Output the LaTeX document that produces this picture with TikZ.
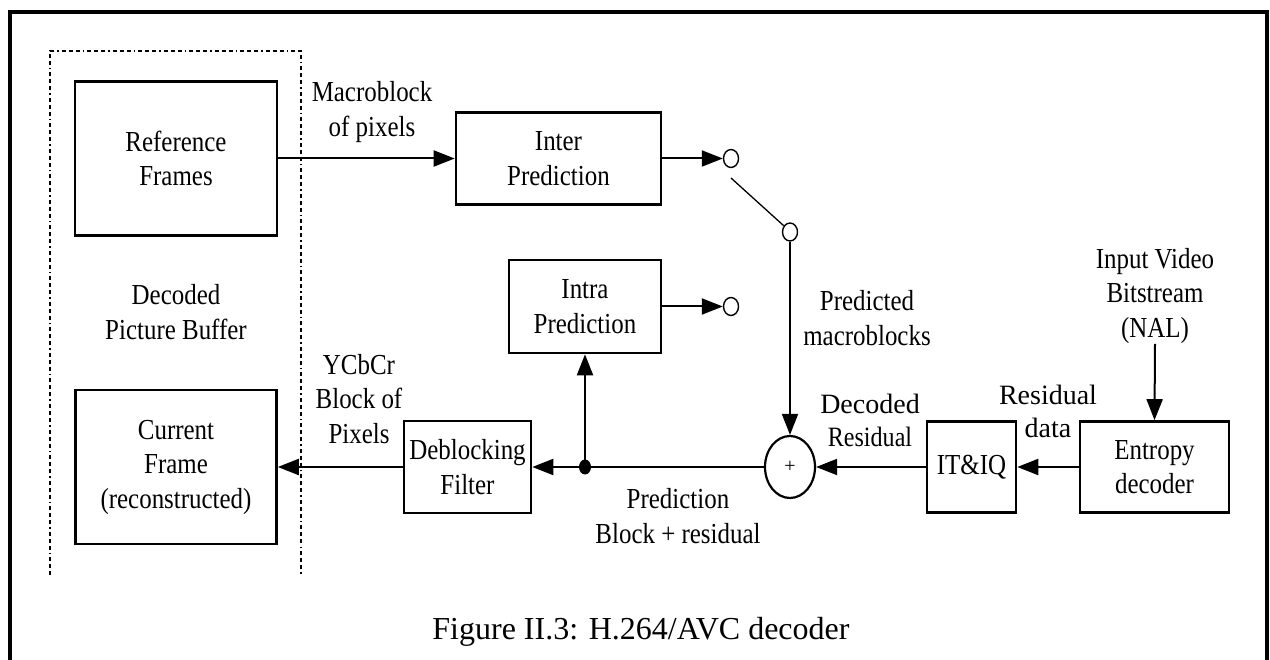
\documentclass[tikz,border=0pt]{standalone}
\usepackage{fontspec}
\setmainfont{Liberation Serif}
\newfontfamily\narrowserif[FakeStretch=0.86]{Liberation Serif}
\usetikzlibrary{arrows.meta,shapes.geometric}

\begin{document}
\begin{tikzpicture}[x=1pt,y=-1pt,
  blocktext/.style={font=\narrowserif\fontsize{29}{34.5}\selectfont, align=center},
  blockbox/.style={blocktext, draw, line width=2.6pt, inner sep=0pt},
  lbl/.style={blocktext, inner sep=0pt},
  plainlbl/.style={font=\fontsize{28}{33}\selectfont, align=center, inner sep=0pt},
  flow/.style={line width=2pt, -{Triangle[length=21pt,width=16pt]}},
  port/.style={draw, ellipse, line width=1.4pt, minimum width=15pt, minimum height=18pt, inner sep=0pt},
]
\useasboundingbox (0,0) rectangle (1270,660);

% outer frame, open at the bottom
\draw[line width=4pt] (10,668) -- (10,12) -- (1267,12) -- (1267,668);

% decoded picture buffer outline
\draw[line width=1.4pt, dash pattern=on 4pt off 3pt on 4pt off 3pt on 4pt off 3pt on 1.5pt off 3pt]
  (50,575) -- (50,51) -- (301,51) -- (301,575);

% processing blocks
\node[blockbox, minimum width=202pt, minimum height=154pt] (ref) at (176,158.5) {Reference\\Frames};
\node[blockbox, minimum width=201pt, minimum height=154pt] (cur) at (176,467) {Current\\Frame\\(reconstructed)};
\node[blockbox, minimum width=205pt, minimum height=92pt] (inter) at (558.5,158.5) {Inter\\Prediction};
\node[blockbox, minimum width=152pt, minimum height=93pt] (intra) at (585,306.5) {Intra\\Prediction};
\node[blockbox, minimum width=127pt, minimum height=92pt] (deb) at (467.5,467) {Deblocking\\Filter};
\node[blockbox, minimum width=89pt, minimum height=91pt] (itiq) at (971.5,467) {IT\&IQ};
\node[blockbox, minimum width=149pt, minimum height=91pt] (ent) at (1154.5,467) {Entropy\\decoder};

% adder, junction and switch contacts
\node[draw, ellipse, line width=2.2pt, minimum width=50pt, minimum height=62pt, inner sep=0pt,
      font=\fontsize{20}{20}\selectfont] (sum) at (790,467) {+};
\node[fill, ellipse, minimum width=12pt, minimum height=15pt, inner sep=0pt] (dot) at (585,467) {};
\node[port] (c1) at (731,158.5) {};
\node[port] (c2) at (790,232) {};
\node[port] (c3) at (731,306.5) {};
\coordinate (sw) at (731,178);

% labels
\node[lbl] (mb) at (372,112) {Macroblock\\of pixels};
\node[lbl] (dpb) at (176,312) {Decoded\\Picture Buffer};
\node[lbl] (pred) at (867,318) {Predicted\\macroblocks};
\node[lbl] (nal) at (1155,296) {Input Video\\Bitstream\\(NAL)};
\node[lbl] (ycc) at (359,399) {YCbCr\\Block of\\Pixels};
\node[plainlbl] (dres) at (870,420) {Decoded\\{\narrowserif Residual}};
\node[plainlbl] (rdata) at (1048,411) {Residual\\data};
\node[lbl] (pbr) at (678,516) {Prediction\\Block + residual};
\node[font=\fontsize{32}{38}\selectfont, inner sep=0pt] (cap) at (641,632) {Figure II.3: H.264/AVC decoder};

% connections
\draw[flow] (ref.east) -- (inter.west);
\draw[flow] (inter.east) -- (c1.west);
\draw[flow] (intra.east) -- (c3.west);
\draw[line width=1.3pt] (sw) -- (c2.135);
\draw[flow] (c2.south) -- (sum.north);
\draw[flow] (nal.south) -- (ent.north);
\draw[flow] (ent.west) -- (itiq.east);
\draw[flow] (itiq.west) -- (sum.east);
\draw[flow] (sum.west) -- (deb.east);
\draw[flow] (dot.center) -- (intra.south);
\draw[flow] (deb.west) -- (cur.east);
\end{tikzpicture}
\end{document}
